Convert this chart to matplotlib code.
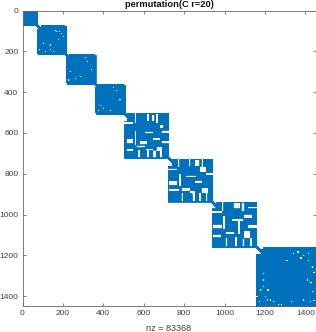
import numpy as np
import matplotlib
matplotlib.use("Agg")
import matplotlib.pyplot as plt

plt.rcParams['font.family'] = ['Liberation Sans', 'DejaVu Sans']

N = 1450
# 块的范围 (起始, 结束)，行/列分开
COL_SPANS = [(0, 73), (70, 218), (214, 363), (358, 507), (502, 722), (719, 940), (937, 1158), (1154, 1450)]
ROW_SPANS = [(0, 72), (69, 216), (211, 362), (358, 507), (501, 723), (727, 938), (938, 1159), (1159, 1450)]

# 对角线上连接相邻块的细带 (起始, 结束)
BRIDGES = [(70, 100), (214, 236), (358, 378), (502, 526), (719, 746), (937, 961), (1154, 1190)]

# 块内空白，单位为块宽的百分比 (c0, c1, r0, r1)
HOLES_2 = [(0, 13, 0, 15), (92, 100, 0, 3), (0, 4, 96, 100), (96, 100, 96, 100)]
HOLES_3 = [(0, 9, 0, 10), (96, 100, 0, 3), (0, 4, 96, 100), (96, 100, 96, 100)]
HOLES_4 = [(0, 9, 0, 10), (96, 100, 0, 3), (0, 4, 96, 100), (96, 100, 96, 100)]
HOLES_5 = [(0, 6, 0, 18), (24, 27, 0, 22), (52, 55, 3, 18), (62, 68, 5, 18), (71, 76, 3, 22),
           (0, 20, 20, 24), (5, 20, 57, 67), (24, 27, 40, 70), (47, 65, 41, 45), (80, 88, 26, 33),
           (84, 100, 39, 44), (65, 80, 56, 60), (35, 50, 63, 69), (28, 47, 72, 76), (73, 84, 76, 83),
           (84, 100, 63, 67), (5, 20, 79, 83), (49, 65, 79, 82), (52, 55, 82, 98), (65, 71, 83, 98),
           (80, 84, 82, 98), (32, 35, 82, 98)]
HOLES_6 = [(0, 8, 0, 15), (22, 25, 0, 18), (47, 50, 0, 15), (60, 70, 3, 15), (75, 78, 0, 20),
           (0, 20, 22, 26), (2, 20, 52, 60), (25, 28, 35, 62), (40, 62, 38, 41), (85, 100, 32, 36),
           (72, 85, 18, 30), (60, 75, 50, 56), (2, 25, 70, 74), (30, 48, 67, 73), (50, 60, 75, 80),
           (75, 90, 68, 78), (55, 60, 80, 98), (70, 73, 80, 98), (85, 88, 80, 98), (30, 33, 80, 98)]
HOLES_7 = [(0, 8, 0, 14), (22, 25, 0, 20), (48, 62, 3, 14), (66, 72, 3, 20), (0, 22, 20, 24),
           (80, 100, 10, 14), (72, 90, 28, 34), (3, 22, 50, 58), (25, 28, 30, 60), (45, 70, 38, 41),
           (58, 62, 40, 70), (80, 100, 52, 57), (3, 20, 72, 78), (30, 50, 66, 70), (72, 85, 65, 80),
           (52, 56, 78, 98), (68, 72, 82, 98), (85, 90, 80, 98), (30, 34, 80, 98)]
HOLES_8 = [(0, 8, 0, 11), (0, 12, 0, 3)]
BLOCK_HOLES = [[], HOLES_2, HOLES_3, HOLES_4, HOLES_5, HOLES_6, HOLES_7, HOLES_8]

# 零散小空白 (列百分比, 行百分比)
SPECKS_2 = [(61, 19), (66, 22), (75, 22), (89, 39), (22, 61), (44, 83), (28, 89), (44, 67), (72, 50), (83, 28), (9, 83), (55, 89)]
SPECKS_3 = [(64, 13), (71, 24), (14, 57), (31, 79), (47, 74), (85, 52), (9, 85)]
SPECKS_4 = [(61, 11), (72, 22), (17, 70), (28, 81), (50, 87), (11, 87), (83, 53)]
SPECKS_8 = [(13, 66), (16, 83), (19, 89), (13, 55), (80, 14), (88, 11), (88, 22), (94, 33), (97, 42),
            (63, 11), (38, 97), (42, 97), (80, 89), (91, 92), (52, 22), (24, 89), (86, 55), (13, 44), (2, 83),
            (70, 8), (75, 18), (92, 60), (95, 75), (60, 92), (8, 72), (20, 72), (30, 92), (6, 92), (97, 90)]
BLOCK_SPECKS = [[], SPECKS_2, SPECKS_3, SPECKS_4, [], [], [], SPECKS_8]

X_TICKS = [0, 200, 400, 600, 800, 1000, 1200, 1400]
Y_TICKS = [0, 200, 400, 600, 800, 1000, 1200, 1400]

# 标记本身有宽度，空白要放大一点才看得出来
GROW = 2
SPECK_HALF = 5

M = np.zeros((N, N), dtype=bool)
for (c0, c1), (r0, r1), holes, specks in zip(COL_SPANS, ROW_SPANS, BLOCK_HOLES, BLOCK_SPECKS):
    M[r0:r1, c0:c1] = True
    w = c1 - c0
    h = r1 - r0
    for a, b, c, d in holes:
        M[max(int(r0 + c * h / 100) - GROW, 0):int(r0 + d * h / 100) + GROW,
          max(int(c0 + a * w / 100) - GROW, 0):int(c0 + b * w / 100) + GROW] = False
    for a, c in specks:
        cx = int(c0 + a * w / 100)
        cy = int(r0 + c * h / 100)
        M[max(cy - SPECK_HALF, 0):cy + SPECK_HALF, max(cx - SPECK_HALF, 0):cx + SPECK_HALF] = False

for start, end in BRIDGES:
    for i in range(start, end):
        M[i - 4:i + 4, i - 4:i + 4] = True

fig = plt.figure(figsize=(3.16, 3.32), dpi=100)
ax = fig.add_axes([22.5 / 316, 1 - 306.3 / 332, (315.5 - 22.5) / 316, (306.3 - 10.5) / 332])
lines = ax.spy(M, marker='s', markersize=0.3, color='#0072BD', markeredgewidth=0, aspect='auto')
lines.set_snap(False)
ax.set_xlim(0, N)
ax.set_ylim(N, 0)

ax.xaxis.set_ticks_position('both')
ax.yaxis.set_ticks_position('both')
ax.xaxis.set_label_position('bottom')
ax.tick_params(axis='x', labeltop=False, labelbottom=True)
ax.set_xticks(X_TICKS)
ax.set_yticks(Y_TICKS)
ax.tick_params(direction='in', length=2.2, width=0.5, color='#555555', labelsize=6,
               labelcolor='#404040', pad=3)
for spine in ax.spines.values():
    spine.set_linewidth(0.6)
    spine.set_color('#666666')

ax.set_xlabel("nz = 83368", fontsize=6.6, color='#404040', labelpad=4.5)
ax.set_title("permutation(C r=20)", fontsize=6.7, fontweight='bold', color='#111111', pad=2.5)

fig.savefig("out.png", dpi=100)
plt.close(fig)
